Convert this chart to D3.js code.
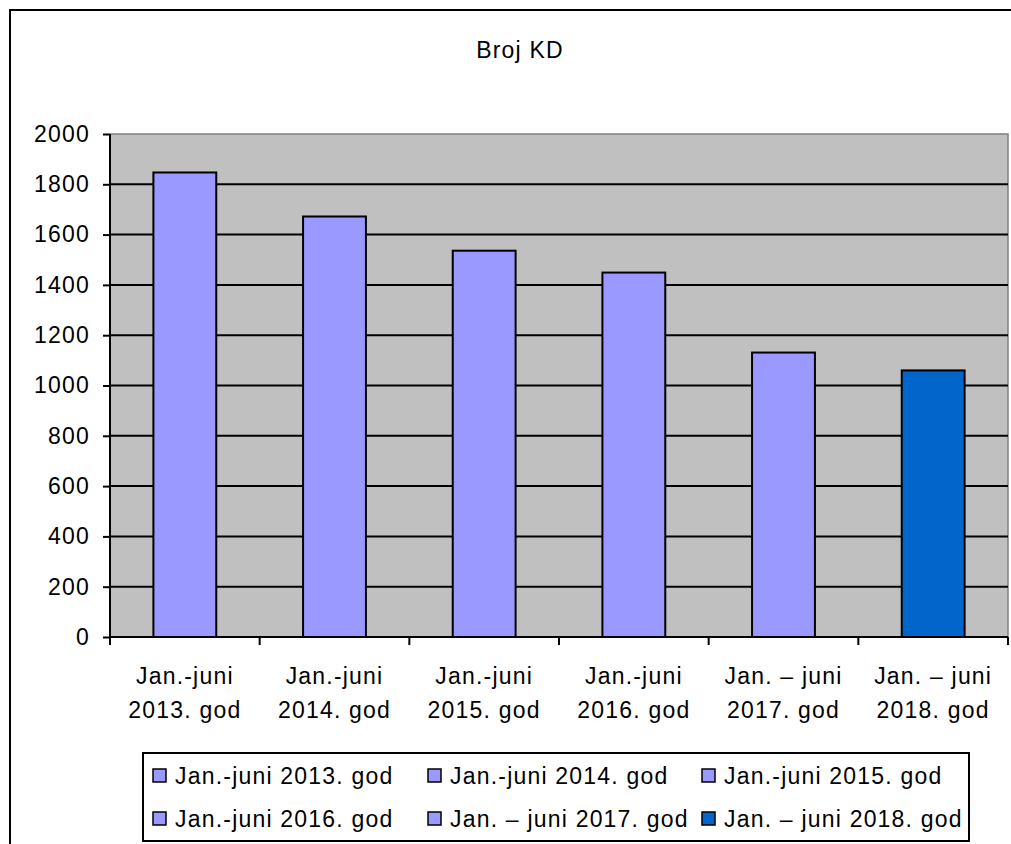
<!DOCTYPE html>
<html lang="sr">
<head>
    <meta charset="UTF-8">
    <title>Broj KD</title>
    <script src="https://d3js.org/d3.v7.min.js"></script>
    <style>
        body {
            margin: 0;
            background-color: #fff;
            font-family: "Liberation Sans", Arial, sans-serif;
        }
        svg text {
            fill: #000;
            font-size: 23px;
            letter-spacing: 1.2px;
        }
    </style>
</head>
<body>
    <div id="chart"></div>

    <script>
        // data
        const categories = ['Jan.-juni 2013. god', 'Jan.-juni 2014. god', 'Jan.-juni 2015. god',
                            'Jan.-juni 2016. god', 'Jan. – juni 2017. god', 'Jan. – juni 2018. god'];
        const labelLines = [['Jan.-juni', '2013. god'], ['Jan.-juni', '2014. god'], ['Jan.-juni', '2015. god'],
                            ['Jan.-juni', '2016. god'], ['Jan. – juni', '2017. god'], ['Jan. – juni', '2018. god']];
        const values = [1847, 1672, 1536, 1449, 1131, 1060];
        const colors = ['#9999ff', '#9999ff', '#9999ff', '#9999ff', '#9999ff', '#0066cc'];
        const yTicks = [0, 200, 400, 600, 800, 1000, 1200, 1400, 1600, 1800, 2000];

        const width = 1011, height = 844;
        const plot = { left: 110, right: 1008, top: 134, bottom: 637 };

        const svg = d3.select('#chart').append('svg')
            .attr('width', width)
            .attr('height', height)
            .style('display', 'block');

        // outer chart frame (runs off the page on right/bottom)
        svg.append('rect')
            .attr('x', 10).attr('y', 10)
            .attr('width', 1010).attr('height', 850)
            .attr('fill', '#fff')
            .attr('stroke', '#000')
            .attr('stroke-width', 2);

        svg.append('text')
            .attr('x', 520).attr('y', 58)
            .attr('text-anchor', 'middle')
            .text('Broj KD');

        const x = d3.scaleBand()
            .domain(categories)
            .range([plot.left, plot.right])
            .paddingInner(0.58)
            .paddingOuter(0.29);

        const y = d3.scaleLinear()
            .domain([0, 2000])
            .range([plot.bottom, plot.top]);

        // plot background
        svg.append('rect')
            .attr('x', plot.left).attr('y', plot.top)
            .attr('width', plot.right - plot.left)
            .attr('height', plot.bottom - plot.top)
            .attr('fill', '#c0c0c0')
            .attr('stroke', '#808080')
            .attr('stroke-width', 1.5);

        // gridlines
        svg.append('g')
            .selectAll('line')
            .data(yTicks.filter(t => t > 0 && t < 2000))
            .enter().append('line')
            .attr('x1', plot.left).attr('x2', plot.right)
            .attr('y1', d => y(d)).attr('y2', d => y(d))
            .attr('stroke', '#000')
            .attr('stroke-width', 2);

        // bars
        svg.append('g')
            .selectAll('rect')
            .data(values)
            .enter().append('rect')
            .attr('x', (d, i) => x(categories[i]))
            .attr('y', d => y(d))
            .attr('width', x.bandwidth())
            .attr('height', d => y(0) - y(d))
            .attr('fill', (d, i) => colors[i])
            .attr('stroke', '#000')
            .attr('stroke-width', 2);

        // y axis
        const yAxis = svg.append('g')
            .attr('transform', `translate(${plot.left},0)`)
            .call(d3.axisLeft(y).tickValues(yTicks).tickSize(7).tickPadding(13).tickFormat(d3.format('d')));
        yAxis.attr('font-family', null).attr('font-size', null);
        yAxis.select('.domain').attr('stroke', '#000').attr('stroke-width', 2).attr('d', `M0,${plot.top}V${plot.bottom}`);
        yAxis.selectAll('.tick line').attr('stroke', '#000').attr('stroke-width', 2);

        // x axis: ticks between categories
        const step = x.step();
        const xAxis = svg.append('g');
        xAxis.append('line')
            .attr('x1', plot.left).attr('x2', plot.right)
            .attr('y1', plot.bottom).attr('y2', plot.bottom)
            .attr('stroke', '#000').attr('stroke-width', 2);
        xAxis.selectAll('.sep')
            .data(d3.range(categories.length + 1))
            .enter().append('line')
            .attr('class', 'sep')
            .attr('x1', i => plot.left + i * step).attr('x2', i => plot.left + i * step)
            .attr('y1', plot.bottom).attr('y2', plot.bottom + 8)
            .attr('stroke', '#000').attr('stroke-width', 2);

        const xl = xAxis.selectAll('.xl')
            .data(categories)
            .enter().append('text')
            .attr('class', 'xl')
            .attr('text-anchor', 'middle');
        xl.each(function (d, i) {
            const cx = x(d) + x.bandwidth() / 2;
            d3.select(this).selectAll('tspan')
                .data(labelLines[i])
                .enter().append('tspan')
                .attr('x', cx)
                .attr('y', (t, j) => 684 + j * 34)
                .text(t => t);
        });

        // legend
        const legend = svg.append('g');
        legend.append('rect')
            .attr('x', 143).attr('y', 753)
            .attr('width', 826).attr('height', 88)
            .attr('fill', '#fff')
            .attr('stroke', '#000')
            .attr('stroke-width', 2);

        const colX = [153, 428, 702];
        const rowY = [776, 819];
        const items = legend.selectAll('.item')
            .data(categories)
            .enter().append('g')
            .attr('class', 'item')
            .attr('transform', (d, i) => `translate(${colX[i % 3]},${rowY[Math.floor(i / 3)]})`);
        items.append('rect')
            .attr('x', 0).attr('y', -7)
            .attr('width', 13).attr('height', 13)
            .attr('fill', (d, i) => colors[i])
            .attr('stroke', '#000')
            .attr('stroke-width', 1.5);
        items.append('text')
            .attr('x', 22).attr('y', 8)
            .text(d => d);
    </script>
</body>
</html>
